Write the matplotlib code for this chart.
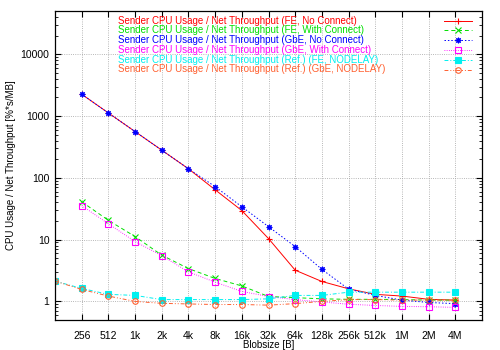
import numpy as np
import matplotlib
matplotlib.use("Agg")
import matplotlib.pyplot as plt
from matplotlib.lines import Line2D

plt.rcParams['font.family'] = ['Liberation Sans', 'DejaVu Sans']
plt.rcParams['font.size'] = 7

# blob sizes in bytes
blobsize = [128, 256, 512, 1024, 2048, 4096, 8192, 16384, 32768, 65536,
            131072, 262144, 524288, 1048576, 2097152, 4194304]
tick_sizes = blobsize[1:]
tick_labels = ['256', '512', '1k', '2k', '4k', '8k', '16k', '32k', '64k',
               '128k', '256k', '512k', '1M', '2M', '4M']

nan = np.nan
fe_noconn = [nan, 2250, 1120, 560, 280, 140, 64, 29.5, 10.4, 3.2, 2.1, 1.6, 1.3, 1.22, 1.08, 1.05]
fe_conn = [nan, 41, 20.5, 11.2, 5.6, 3.4, 2.35, 1.78, 1.2, 1.15, 1.1, 1.08, 1.08, 1.07, 1.05, 1.05]
gbe_noconn = [nan, 2250, 1120, 560, 280, 140, 72, 34, 16.2, 7.7, 3.3, 1.58, 1.25, 1.05, 0.96, 0.92]
gbe_conn = [nan, 35.5, 18, 9.3, 5.5, 3.0, 2.05, 1.45, 1.2, 1.07, 0.98, 0.9, 0.86, 0.83, 0.82, 0.8]
ref_fe = [2.13, 1.62, 1.3, 1.25, 1.07, 1.07, 1.07, 1.07, 1.1, 1.25, 1.25, 1.41, 1.41, 1.41, 1.41, 1.41]
ref_gbe = [2.13, 1.56, 1.22, 1.0, 0.93, 0.91, 0.89, 0.89, 0.87, 0.92, 1.0, 1.07, 1.07, 1.05, 1.05, 1.05]

labels = [
    "Sender CPU Usage / Net Throughput (FE, No Connect)",
    "Sender CPU Usage / Net Throughput (FE, With Connect)",
    "Sender CPU Usage / Net Throughput (GbE, No Connect)",
    "Sender CPU Usage / Net Throughput (GbE, With Connect)",
    "Sender CPU Usage / Net Throughput (Ref.) (FE, NODELAY)",
    "Sender CPU Usage / Net Throughput (Ref.) (GbE, NODELAY)",
]
series = [fe_noconn, fe_conn, gbe_noconn, gbe_conn, ref_fe, ref_gbe]
colors = ['#ff0000', '#00e000', '#0000ff', '#ff00ff', '#00f0f0', '#ff6030']
markers = ['+', 'x', (8, 2, 0), 's', 's', 'o']
filled = [True, True, True, False, True, False]
dashes = [None, (4, 3), (1.5, 2), (0.8, 1.5), (4, 2, 1, 2), (4, 2, 1, 2, 1, 2)]

fig = plt.figure(figsize=(5, 3.5), dpi=100)
ax = fig.add_axes([55 / 500, 30 / 350, 427 / 500, 309 / 350])

for vals, c, m, f, d in zip(series, colors, markers, filled, dashes):
    kw = dict(color=c, lw=0.7, marker=m, ms=4, mew=0.8,
              mfc=c if f else 'none', mec=c)
    line, = ax.plot(blobsize, vals, **kw)
    if d is not None:
        line.set_dashes(d)

ax.set_xscale('log', base=2)
ax.set_yscale('log')
ax.set_xlim(128, 8388608)
ax.set_ylim(0.5, 50000)

ax.set_xticks(tick_sizes)
ax.set_xticklabels(tick_labels)
ax.xaxis.set_minor_locator(matplotlib.ticker.NullLocator())
ax.set_yticks([1, 10, 100, 1000, 10000])
ax.set_yticklabels(['1', '10', '100', '1000', '10000'])

ax.tick_params(which='both', direction='in', top=True, right=True)
ax.tick_params(which='major', length=4, width=0.8)
ax.tick_params(which='minor', length=2, width=0.6)
ax.tick_params(axis='x', pad=8, labelsize=7.5)
ax.tick_params(axis='y', pad=4, labelsize=7.5)
ax.grid(True, which='major', color='#a0a0a0', ls=':', lw=0.6)
for s in ax.spines.values():
    s.set_linewidth(0.9)

ax.set_xlabel("Blobsize [B]", va='center')
ax.xaxis.set_label_coords(0.5, (320 - 345) / 309)
ax.set_ylabel("CPU Usage / Net Throughput [%*s/MB]", va='center')
ax.yaxis.set_label_coords((11 - 55) / 427, 0.5)

# legend drawn by hand: left-aligned colored text, samples on the right
row_y = [20.7, 30.4, 40.2, 50.0, 59.8, 69.5]
for lab, c, m, f, d, yp in zip(labels, colors, markers, filled, dashes, row_y):
    yf = 1 - yp / 350
    fig.text(118 / 500, yf, lab, color=c, ha='left', va='center', fontsize=7)
    ln = Line2D([444 / 500, 472 / 500], [yf, yf], transform=fig.transFigure,
                color=c, lw=0.7)
    if d is not None:
        ln.set_dashes(d)
    fig.add_artist(ln)
    mk = Line2D([458 / 500], [yf], transform=fig.transFigure, ls='none',
                marker=m, ms=4, mew=0.8, color=c, mfc=c if f else 'none', mec=c)
    fig.add_artist(mk)

fig.savefig("out.png", dpi=100)
